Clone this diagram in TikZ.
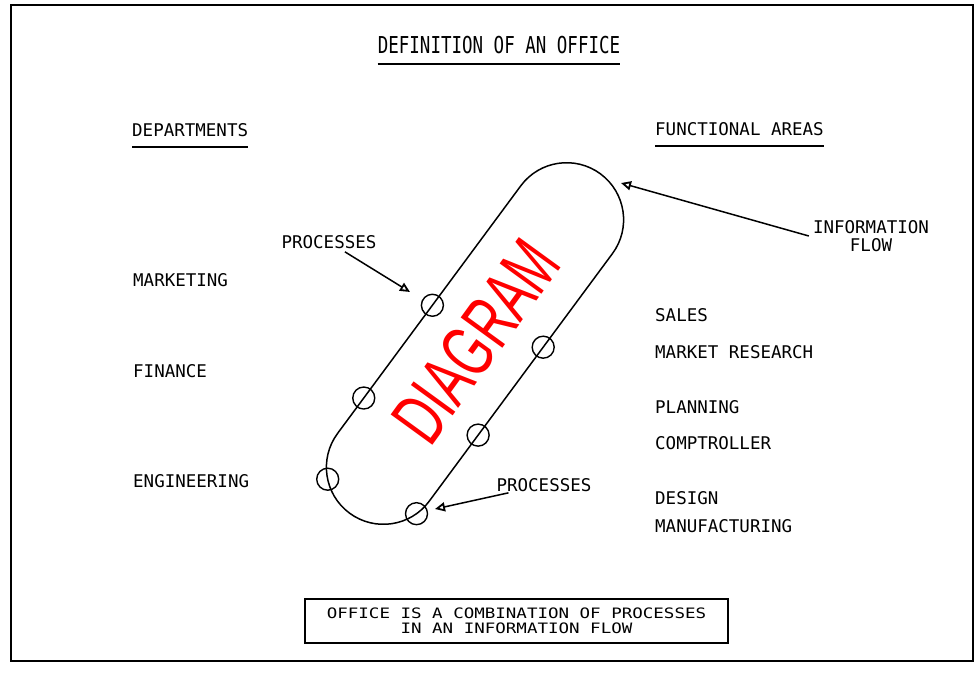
\documentclass[tikz,border=0pt]{standalone}
\usepackage{fontspec}
\usepackage{graphicx}
\usetikzlibrary{arrows.meta}
\newfontfamily\twfont{DejaVu Sans Mono}
\newfontfamily\diagfont{Liberation Sans}
\begin{document}
\begin{tikzpicture}[x=1pt,y=-1pt,
  lbl/.style={font=\twfont\fontsize{17.5}{18}\selectfont, inner sep=0pt},
  uline/.style={line width=2pt},
  proc/.style={draw, circle, minimum size=22pt, inner sep=0pt, line width=1.4pt},
  arr/.style={line width=1.5pt, -{Triangle[open, length=10pt, width=9pt, line width=1.8pt]}}
]
\useasboundingbox (0,0) rectangle (980,673);
% frame
\draw[line width=2.2pt] (11,5) rectangle (973,661);

% title and headings
\node[lbl] (title) at (499,45) {\scalebox{1}[1.33]{DEFINITION OF AN OFFICE}};
\draw[uline] ([yshift=-9.5pt]title.south west) -- ([yshift=-9.5pt]title.south east);

\node[lbl, anchor=west] (dept) at (132,130) {DEPARTMENTS};
\draw[uline] ([yshift=-10.5pt]dept.south west) -- ([yshift=-10.5pt]dept.south east);

\node[lbl, anchor=west] (func) at (655,129) {FUNCTIONAL AREAS};
\draw[uline] ([yshift=-10.5pt]func.south west) -- ([yshift=-10.5pt]func.south east);

% departments
\node[lbl, anchor=west] (mkt) at (133,280) {MARKETING};
\node[lbl, anchor=west] (fin) at (133,371) {FINANCE};
\node[lbl, anchor=west] (eng) at (133,481) {ENGINEERING};

% functional areas
\node[lbl, anchor=west] (sales) at (655,315) {SALES};
\node[lbl, anchor=west] (mres) at (655,352) {MARKET RESEARCH};
\node[lbl, anchor=west] (plan) at (655,407) {PLANNING};
\node[lbl, anchor=west] (comp) at (655,443) {COMPTROLLER};
\node[lbl, anchor=west] (design) at (655,498) {DESIGN};
\node[lbl, anchor=west] (manu) at (655,526) {MANUFACTURING};

% information-flow loop with processes
\begin{scope}[shift={(475,343.5)}, rotate=53.5]
  \node[draw, line width=1.5pt, minimum width=422pt, minimum height=114pt,
        rounded corners=57pt, inner sep=0pt, transform shape] (loop) at (0,0) {};
  \node[proc] (p1) at (5.4,-57) {};
  \node[proc] (p2) at (-110,-57) {};
  \node[proc] (p3) at (37.6,57) {};
  \node[proc] (p4) at (-71.8,57) {};
  \node[proc] (p5) at (-196.7,-37.7) {};
  \node[proc] (p6) at (-171.6,54.2) {};
\end{scope}

% red label
\node[text=red, font=\diagfont\fontsize{75}{80}\selectfont, inner sep=0pt, rotate=54]
  (diag) at (476,341) {\scalebox{0.65}[1]{DIAGRAM}};

% annotations
\node[lbl, inner sep=3pt] (procA) at (329,242) {PROCESSES};
\coordinate (tipA) at (410,292);
\draw[arr] (procA) -- (tipA);

\node[lbl, inner sep=1pt] (procB) at (544,485) {PROCESSES};
\coordinate (tipB) at (435,509);
\draw[arr] (procB) -- (tipB);

\node[lbl, align=center, inner sep=4pt] (info) at (871,236) {INFORMATION\\FLOW};
\coordinate (tipC) at (621,183);
\draw[arr] (info.west) -- (tipC);

% summary box
\node[draw, line width=1.8pt, minimum width=423pt, minimum height=44pt, align=center,
      font=\twfont\fontsize{17.5}{15}\selectfont, inner sep=0pt] (note) at (516.5,621)
  {\scalebox{1}[0.82]{OFFICE IS A COMBINATION OF PROCESSES}\\\scalebox{1}[0.82]{IN AN INFORMATION FLOW}};
\end{tikzpicture}
\end{document}
